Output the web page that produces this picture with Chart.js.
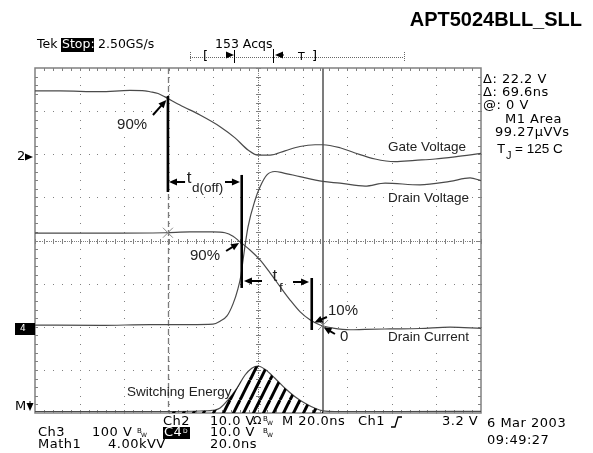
<!DOCTYPE html>
<html>
<head>
<meta charset="utf-8">
<script src="https://cdn.jsdelivr.net/npm/chart.js@4/dist/chart.umd.min.js"></script>
<style>
html, body {margin: 0; padding: 0; background: #fff;}
canvas {display: block;}
</style>
</head>
<body>
<canvas id="scope" width="593" height="453"></canvas>
<script>
// time in ns (20 ns/div, 10 div), amplitude in screen divisions (0 = bottom of graticule, 8 = top)
var gateNs = [0, 11.2, 29.1, 42.6, 49.3, 51.6, 55.2, 58.3, 65.0, 74.0, 83.0, 89.7, 95.5, 100.0, 105.4, 112.1, 118.8, 125.6, 129.1, 136.8, 143.5, 152.5, 161.4, 170.4, 179.4, 188.3, 200];
var gateDiv = [7.47, 7.47, 7.45, 7.48, 7.47, 7.45, 7.41, 7.33, 7.14, 6.91, 6.64, 6.38, 6.10, 5.98, 5.98, 6.08, 6.18, 6.22, 6.22, 6.15, 6.03, 5.89, 5.83, 5.86, 5.89, 5.94, 6.02];

var drainVNs = [0, 29.1, 51.6, 69.5, 79.8, 83.0, 86.1, 88.8, 91.0, 92.4, 93.3, 95.5, 98.7, 100.9, 104.0, 107.6, 111.2, 118.8, 129.1, 136.8, 148.0, 157.0, 172.6, 186.1, 195.1, 200];
var drainVDiv = [2.04, 2.03, 2.05, 2.05, 2.06, 2.13, 2.25, 2.53, 2.88, 3.20, 3.55, 4.31, 4.94, 5.24, 5.52, 5.60, 5.57, 5.48, 5.37, 5.33, 5.26, 5.33, 5.29, 5.37, 5.45, 5.39];

var drainINs = [0, 29.1, 58.3, 69.5, 79.8, 85.2, 88.8, 91.9, 96.4, 100.9, 105.4, 109.9, 114.4, 118.8, 123.3, 127.8, 133.6, 141.3, 148.0, 159.2, 172.6, 186.1, 200];
var drainIDiv = [4.17, 4.17, 4.18, 4.20, 4.20, 4.18, 4.10, 3.97, 3.78, 3.55, 3.25, 2.93, 2.62, 2.35, 2.16, 2.04, 1.97, 1.93, 1.94, 1.95, 1.96, 1.99, 1.96];

var energyNs = [0, 29.1, 59.6, 74.0, 80.7, 83.0, 86.5, 90.6, 94.2, 97.2, 100.0, 103.1, 107.6, 112.1, 116.6, 121.1, 125.6, 129.2, 134.5, 163.7, 200];
var energyDiv = [0.035, 0.035, 0.035, 0.046, 0.07, 0.116, 0.301, 0.58, 0.881, 1.037, 1.09, 1.013, 0.805, 0.573, 0.378, 0.225, 0.109, 0.05, 0.035, 0.035, 0.04];

// cursor positions (ns): dashed one, solid one
var cursorNs = [59.6, 129.2];

// thick black measuring lines: [ns, from div, to div]
var markLines = [[59.6, 7.35, 5.125], [92.7, 5.52, 2.90], [124.1, 3.13, 1.925]];
// arrows: [from ns, from div, to ns, to div]
var arrows = [
  [52.9, 6.91, 58.9, 7.26],
  [67.3, 5.357, 60.1, 5.357],
  [85.2, 5.357, 91.9, 5.357],
  [85.7, 3.757, 91.5, 3.942],
  [101.8, 3.061, 93.7, 3.061],
  [115.7, 3.038, 122.9, 3.038],
  [130.9, 2.226, 125.3, 2.10],
  [134.5, 1.832, 129.4, 1.99]
];
// labels inside graticule: [text, ns, div, font px]
var labels = [
  ["90%", 36.8, 6.68, 15],
  ["t", 68.0, 5.45, 17],
  ["d(off)", 70.4, 5.22, 13.5],
  ["90%", 69.5, 3.64, 15],
  ["t", 106.5, 3.16, 17],
  ["f", 109.4, 2.90, 13.5],
  ["10%", 131.4, 2.37, 15],
  ["0", 136.8, 1.76, 15],
  ["Gate Voltage", 158.3, 6.17, 13.5],
  ["Drain Voltage", 158.3, 4.99, 13.5],
  ["Drain Current", 158.3, 1.76, 13.5],
  ["Switching Energy", 41.3, 0.49, 13.5]
];

var TRACE = '#4a4a4a', GRID = '#808080', CURSOR = '#7c7c7c';
var TEK = '"DejaVu Sans", sans-serif', HELV = '"Liberation Sans", Arial, sans-serif';

function pts(ts, vs) {
  return ts.map(function (t, i) { return {x: t, y: vs[i]}; });
}

function txt(c, s, x, y, font, color, align) {
  c.font = font;
  c.fillStyle = color || '#000';
  c.textAlign = align || 'left';
  c.textBaseline = 'middle';
  c.fillText(s, x, y);
}

function arrow(c, x1, y1, x2, y2) {
  var a = Math.atan2(y2 - y1, x2 - x1), L = 8, W = 3.5;
  c.beginPath();
  c.moveTo(x1, y1);
  c.lineTo(x2 - Math.cos(a) * L * 0.7, y2 - Math.sin(a) * L * 0.7);
  c.stroke();
  c.beginPath();
  c.moveTo(x2, y2);
  c.lineTo(x2 - Math.cos(a) * L - Math.sin(a) * W, y2 - Math.sin(a) * L + Math.cos(a) * W);
  c.lineTo(x2 - Math.cos(a) * L + Math.sin(a) * W, y2 - Math.sin(a) * L - Math.cos(a) * W);
  c.closePath();
  c.fill();
}

function bw(c, x, y) {
  txt(c, 'B', x, y - 2, '7px ' + TEK);
  txt(c, 'W', x + 4, y + 2, '6px ' + TEK);
}

var graticule = {
  id: 'graticule',
  beforeDatasetsDraw: function (chart) {
    var c = chart.ctx, a = chart.chartArea, xs = chart.scales.x, ys = chart.scales.y;
    var dx = (a.right - a.left) / 10, dy = (a.bottom - a.top) / 8, i, j, x, y;
    c.save();
    c.fillStyle = GRID;
    for (i = 1; i < 10; i++) {
      if (i === 5) continue;
      x = Math.round(a.left + i * dx);
      for (j = 0; j <= 40; j++) c.fillRect(x, Math.round(a.top + j * dy / 5), 1, 1);
    }
    for (i = 1; i < 8; i++) {
      if (i === 4) continue;
      y = Math.round(a.top + i * dy);
      for (j = 0; j <= 50; j++) c.fillRect(Math.round(a.left + j * dx / 5), y, 1, 1);
    }
    var cx = Math.round(a.left + 5 * dx), cy = Math.round(a.top + 4 * dy);
    for (j = 0; j <= 200; j++) c.fillRect(cx, Math.round(a.top + j * dy / 25), 1, 1);
    for (j = 0; j <= 250; j++) c.fillRect(Math.round(a.left + j * dx / 25), cy, 1, 1);
    for (j = 0; j <= 40; j++) c.fillRect(cx - 2, Math.round(a.top + j * dy / 5), 5, 1);
    for (j = 0; j <= 50; j++) c.fillRect(Math.round(a.left + j * dx / 5), cy - 2, 1, 5);
    for (j = 1; j < 50; j++) {
      x = Math.round(a.left + j * dx / 5);
      c.fillRect(x, a.top, 1, 3);
      c.fillRect(x, a.bottom - 3, 1, 3);
    }
    for (j = 1; j < 40; j++) {
      y = Math.round(a.top + j * dy / 5);
      c.fillRect(a.left, y, 3, 1);
      c.fillRect(a.right - 3, y, 3, 1);
    }
    c.strokeStyle = GRID;
    c.lineWidth = 1.5;
    c.strokeRect(a.left, a.top, a.right - a.left, a.bottom - a.top);

    // white paper behind the labels
    c.fillStyle = '#fff';
    labels.forEach(function (l) {
      c.font = l[3] + 'px ' + HELV;
      var w = c.measureText(l[0]).width;
      c.fillRect(xs.getPixelForValue(l[1]) - 2, ys.getPixelForValue(l[2]) - l[3] * 0.6, w + 4, l[3] * 1.2);
    });

    // cursors
    c.strokeStyle = CURSOR;
    c.lineWidth = 1.3;
    c.setLineDash([6, 3]);
    x = Math.round(xs.getPixelForValue(cursorNs[0])) + 0.5;
    c.beginPath(); c.moveTo(x, a.top); c.lineTo(x, a.bottom); c.stroke();
    c.setLineDash([]);
    c.lineWidth = 2;
    x = Math.round(xs.getPixelForValue(cursorNs[1]));
    c.beginPath(); c.moveTo(x, a.top); c.lineTo(x, a.bottom); c.stroke();
    c.restore();
  }
};

var marks = {
  id: 'marks',
  afterDatasetsDraw: function (chart) {
    var c = chart.ctx, xs = chart.scales.x, ys = chart.scales.y;
    function X(v) { return xs.getPixelForValue(v); }
    function Y(v) { return ys.getPixelForValue(v); }
    c.save();
    // cursor crosses on the drain current
    c.strokeStyle = '#888';
    c.lineWidth = 1;
    [[cursorNs[0], drainIDiv[2]], [cursorNs[1], drainIDiv[15]]].forEach(function (p) {
      var x = X(p[0]), y = Y(p[1]);
      c.beginPath();
      c.moveTo(x - 5, y - 5); c.lineTo(x + 5, y + 5);
      c.moveTo(x - 5, y + 5); c.lineTo(x + 5, y - 5);
      c.stroke();
    });
    c.strokeStyle = '#000';
    c.fillStyle = '#000';
    c.lineWidth = 2.6;
    markLines.forEach(function (m) {
      c.beginPath(); c.moveTo(X(m[0]), Y(m[1])); c.lineTo(X(m[0]), Y(m[2])); c.stroke();
    });
    c.lineWidth = 2;
    arrows.forEach(function (r) { arrow(c, X(r[0]), Y(r[1]), X(r[2]), Y(r[3])); });
    labels.forEach(function (l) { txt(c, l[0], X(l[1]), Y(l[2]), l[3] + 'px ' + HELV, '#222'); });
    c.restore();
  },
  afterDraw: function (chart) {
    var c = chart.ctx;
    c.save();
    txt(c, 'APT5024BLL_SLL', 582, 20, 'bold 20px ' + HELV, '#000', 'right');

    var f = '13px ' + TEK, h = '12.5px ' + TEK;
    txt(c, 'Tek', 37, 45, h);
    c.fillStyle = '#000';
    c.fillRect(61, 38, 33, 14);
    txt(c, 'Stop:', 62, 45, h, '#fff');
    txt(c, '2.50GS/s', 98, 45, h);
    txt(c, '153 Acqs', 215, 45, h);

    // record / trigger position bar
    c.fillStyle = '#666';
    for (var x = 190; x < 404; x += 2) c.fillRect(x, 57, 1, 1);
    for (var y = 52; y < 62; y += 2) { c.fillRect(190, y, 1, 1); c.fillRect(404, y, 1, 1); }
    txt(c, '[', 203, 57, f);
    txt(c, 'T', 298, 57, '11px ' + TEK);
    txt(c, ']', 312, 57, f);
    c.strokeStyle = '#000'; c.fillStyle = '#000'; c.lineWidth = 1;
    arrow(c, 226, 55, 234, 55);
    arrow(c, 284, 55, 275, 55);
    c.fillRect(234, 50, 1, 13);
    c.fillRect(273, 49, 1, 14);

    c.letterSpacing = '0.5px';
    // right readouts
    txt(c, '\u0394: 22.2 V', 483, 80, f);
    txt(c, '\u0394: 69.6ns', 483, 93, f);
    txt(c, '@: 0 V', 483, 106, f);
    txt(c, 'M1 Area', 505, 120, f);
    txt(c, '99.27\u03bcVVs', 495, 133, f);
    c.letterSpacing = '0px';
    txt(c, 'T', 497, 149, '13.5px ' + HELV);
    txt(c, 'J', 506, 156, '11px ' + HELV);
    txt(c, '= 125 C', 515, 149, '13.5px ' + HELV);
    c.letterSpacing = '0.5px';

    // left channel markers
    txt(c, '2', 17, 157, f);
    c.lineWidth = 1;
    arrow(c, 25, 157, 33, 157);
    c.fillStyle = '#000';
    c.fillRect(15, 323, 20, 12);
    txt(c, '4', 20, 329, '9px ' + TEK, '#fff');
    txt(c, 'M', 15, 407, f);
    c.fillStyle = '#000';
    arrow(c, 30, 401, 30, 411);

    // bottom settings
    txt(c, 'Ch2', 163, 421.5, f);
    txt(c, '10.0 V', 210, 421.5, f);
    txt(c, '\u03a9', 253, 421.5, '11px ' + TEK);
    bw(c, 263, 421.5);
    txt(c, 'M 20.0ns', 282, 421.5, f);
    txt(c, 'Ch1', 358, 421.5, f);
    c.strokeStyle = '#000'; c.lineWidth = 1.3;
    c.beginPath(); c.moveTo(391, 427); c.lineTo(395, 427); c.lineTo(398, 417); c.lineTo(402, 417); c.stroke();
    txt(c, '3.2 V', 442, 421.5, f);

    txt(c, 'Ch3', 38, 433, f);
    txt(c, '100 V', 92, 433, f);
    bw(c, 137, 433);
    c.fillStyle = '#000';
    c.fillRect(163, 427, 27, 12);
    txt(c, 'C4', 164, 433, f, '#fff');
    txt(c, 'D', 183, 431, '6px ' + TEK, '#fff');
    txt(c, '10.0 V', 210, 433, f);
    bw(c, 263, 433);

    txt(c, 'Math1', 38, 444.5, f);
    txt(c, '4.00kVV', 108, 444.5, f);
    txt(c, '20.0ns', 210, 444.5, f);

    txt(c, '6 Mar 2003', 487, 423.5, f);
    txt(c, '09:49:27', 487, 441, f);
    c.restore();
  }
};

var ctx = document.getElementById('scope').getContext('2d');

var tile = document.createElement('canvas');
tile.width = 10; tile.height = 20;
var tg = tile.getContext('2d');
tg.strokeStyle = '#000'; tg.lineWidth = 3;
for (var k = -1; k <= 1; k++) {
  tg.beginPath(); tg.moveTo(k * 10, 20); tg.lineTo(k * 10 + 10, 0); tg.stroke();
}
var hatch = ctx.createPattern(tile, 'repeat');

var energyPts = pts(energyNs, energyDiv);
var hatchPts = energyPts.filter(function (p) { return p.x >= cursorNs[0] && p.x <= cursorNs[1]; });

function trace(label, data) {
  return {label: label, data: data, borderColor: TRACE, borderWidth: 1.2, pointRadius: 0,
    cubicInterpolationMode: 'monotone', fill: false};
}

new Chart(ctx, {
  type: 'line',
  data: {
    datasets: [
      {label: 'Energy area', data: hatchPts, borderWidth: 0, pointRadius: 0, cubicInterpolationMode: 'monotone',
        fill: {value: 0}, backgroundColor: hatch},
      trace('Gate Voltage', pts(gateNs, gateDiv)),
      trace('Drain Voltage', pts(drainVNs, drainVDiv)),
      trace('Drain Current', pts(drainINs, drainIDiv)),
      trace('Switching Energy', energyPts)
    ]
  },
  options: {
    responsive: false,
    animation: false,
    events: [],
    layout: {padding: {left: 35, top: 68, right: 112, bottom: 40}},
    scales: {
      x: {type: 'linear', min: 0, max: 200, display: false},
      y: {type: 'linear', min: 0, max: 8, display: false}
    },
    plugins: {legend: {display: false}, tooltip: {enabled: false}}
  },
  plugins: [graticule, marks]
});
</script>
</body>
</html>
